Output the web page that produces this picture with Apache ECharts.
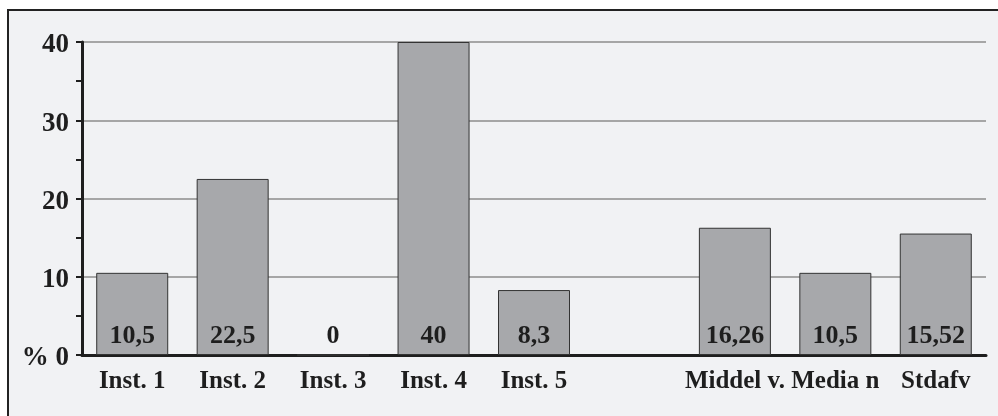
<!DOCTYPE html>
<html>
<head>
<meta charset="utf-8">
<script src="https://cdn.jsdelivr.net/npm/echarts@6/dist/echarts.min.js"></script>
<style>
  html, body { margin: 0; padding: 0; background: #ffffff; }
  #chart { width: 998px; height: 416px; }
</style>
</head>
<body>
<div id="chart"></div>
<script>
// Categories along the x axis; the empty entry leaves a gap before the summary bars.
const categories = ['Inst. 1', 'Inst. 2', 'Inst. 3', 'Inst. 4', 'Inst. 5', '', 'Middel v.', 'Media n', 'Stdafv'];
// Percentages per category ('-' = no bar).
const values = [10.5, 22.5, 0, 40, 8.3, '-', 16.26, 10.5, 15.52];
// Text printed inside each bar.
const valueLabels = ['10,5', '22,5', '0', '40', '8,3', '', '16,26', '10,5', '15,52'];
// Y axis range.
const yMin = 0, yMax = 40, yStep = 10;

const serif = '"Liberation Serif", "DejaVu Serif", serif';
const ink = '#1e1e1e';

const chart = echarts.init(document.getElementById('chart'), null, { renderer: 'canvas' });

chart.setOption({
  backgroundColor: '#ffffff',
  animation: false,
  graphic: [{
    type: 'rect',
    z: -10,
    shape: { x: 8, y: 10, width: 1010, height: 420 },
    style: { fill: '#f1f2f4', stroke: '#222222', lineWidth: 2 }
  }],
  grid: { left: 82, right: 12, top: 42, bottom: 61, containLabel: false },
  xAxis: {
    type: 'category',
    data: categories,
    axisLine: { lineStyle: { color: ink, width: 3 } },
    axisTick: { show: false },
    axisLabel: {
      interval: 0,
      margin: 14,
      color: ink,
      fontFamily: serif,
      fontWeight: 'bold',
      fontSize: 25
    },
    splitLine: { show: false }
  },
  yAxis: {
    type: 'value',
    min: yMin,
    max: yMax,
    interval: yStep,
    axisLine: { show: true, lineStyle: { color: ink, width: 3 } },
    axisTick: { show: true, length: 6, lineStyle: { color: ink, width: 2 } },
    minorTick: { show: true, splitNumber: 2, length: 6, lineStyle: { color: ink, width: 2 } },
    axisLabel: {
      margin: 13,
      color: ink,
      fontFamily: serif,
      fontWeight: 'bold',
      fontSize: 27,
      formatter: v => '{t|' + (v === 0 ? '% 0' : String(v)) + '}',
      rich: {
        t: {
          color: ink,
          fontFamily: serif,
          fontWeight: 'bold',
          fontSize: 27,
          padding: [7, 0, 0, 0]
        }
      }
    },
    splitLine: { show: true, lineStyle: { color: '#8c8c8c', width: 1.5 } }
  },
  series: [{
    type: 'bar',
    data: values,
    barWidth: 72,
    itemStyle: { color: '#a7a8ab', borderColor: '#333333', borderWidth: 1 },
    label: {
      show: true,
      position: 'insideBottom',
      distance: 6,
      color: ink,
      fontFamily: serif,
      fontWeight: 'bold',
      fontSize: 26,
      formatter: p => valueLabels[p.dataIndex]
    }
  }]
});
</script>
</body>
</html>
